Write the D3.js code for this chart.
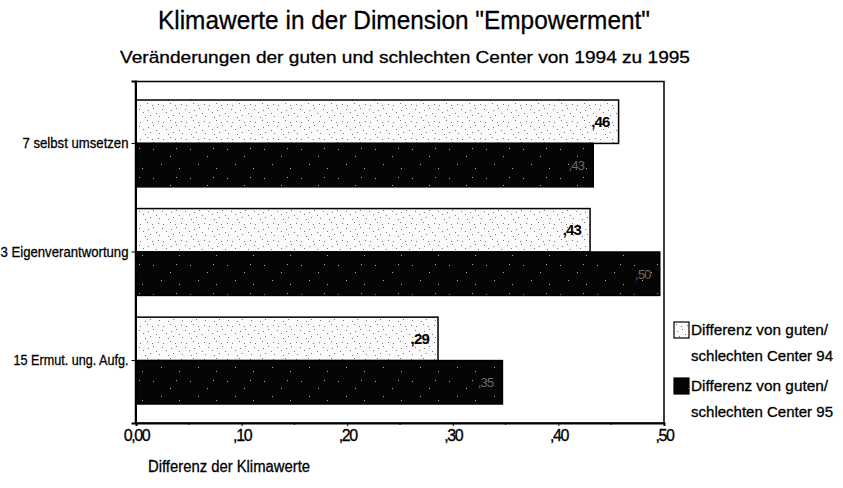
<!DOCTYPE html>
<html>
<head>
<meta charset="utf-8">
<script src="https://cdn.jsdelivr.net/npm/d3@7"></script>
<style>
  html, body { margin: 0; padding: 0; background: #fff; }
  svg { display: block; font-family: "Liberation Sans", Arial, sans-serif; }
  text.heavy { stroke: #000; stroke-width: 0.3; }
</style>
</head>
<body>
<svg id="chart" width="843" height="488"></svg>
<script>
const categories = ["7 selbst umsetzen", "3 Eigenverantwortung", "15 Ermut. ung. Aufg."];
const series94 = [0.457, 0.43, 0.286];
const series95 = [0.433, 0.496, 0.347];
const seriesNames = ["Differenz von guten/\nschlechten Center 94", "Differenz von guten/\nschlechten Center 95"];
const xTicks = [0, 0.1, 0.2, 0.3, 0.4, 0.5];
const xMinorTicks = [0.05, 0.15, 0.25, 0.35, 0.45];
const titleText = "Klimawerte in der Dimension \"Empowerment\"";
const subtitleText = "Veränderungen der guten und schlechten Center von 1994 zu 1995";
const xAxisTitle = "Differenz der Klimawerte";
const catLabelWidths = [106, 128, 115];

const svg = d3.select("#chart");
const defs = svg.append("defs");

// light speckle pattern (fixed dot layout)
const pl = defs.append("pattern").attr("id", "light").attr("patternUnits", "userSpaceOnUse")
  .attr("width", 23).attr("height", 17);
pl.append("rect").attr("width", 23).attr("height", 17).attr("fill", "#fbfbfb");
[[2,3],[9,1],[15,6],[20,2],[5,10],[12,13],[18,11],[7,15],[1,7],[21,14],[14,3],[10,8]].forEach(([x,y]) =>
  pl.append("rect").attr("x", x).attr("y", y).attr("width", 1).attr("height", 1).attr("fill", "#777"));
// dark pattern
const pd = defs.append("pattern").attr("id", "dark").attr("patternUnits", "userSpaceOnUse")
  .attr("width", 37).attr("height", 29);
pd.append("rect").attr("width", 37).attr("height", 29).attr("fill", "#050505");
[[5,4],[22,11],[31,23],[13,19],[28,3]].forEach(([x,y]) =>
  pd.append("rect").attr("x", x).attr("y", y).attr("width", 1).attr("height", 1).attr("fill", "#aaa"));

const x = d3.scaleLinear().domain([0, 0.5]).range([136, 664]);
const y = d3.scaleBand().domain(categories).range([81, 423]).paddingInner(0.2).paddingOuter(0.175);
const sub = d3.scaleBand().domain([0, 1]).range([0, y.bandwidth()]);

// titles
svg.append("text").attr("class", "heavy").attr("x", 404).attr("y", 29).attr("text-anchor", "middle")
  .attr("font-size", 26).attr("textLength", 492).attr("lengthAdjust", "spacingAndGlyphs").text(titleText);
svg.append("text").attr("class", "heavy").attr("x", 405).attr("y", 63).attr("text-anchor", "middle")
  .attr("font-size", 17).attr("textLength", 570).attr("lengthAdjust", "spacingAndGlyphs").text(subtitleText);

// frame
svg.append("rect").attr("x", 135.5).attr("y", 81.5).attr("width", 664 - 135.5).attr("height", 423 - 81.5)
  .attr("fill", "none").attr("stroke", "#000").attr("stroke-width", 1.5);

// bars
const g = svg.append("g");
categories.forEach((c, i) => {
  const vals = [series94[i], series95[i]];
  vals.forEach((v, j) => {
    g.append("rect").attr("x", x(0)).attr("y", y(c) + sub(j))
      .attr("width", x(v) - x(0)).attr("height", sub.bandwidth())
      .attr("fill", j === 0 ? "url(#light)" : "url(#dark)")
      .attr("stroke", "#000").attr("stroke-width", 1.5);
    const lbl = "," + d3.format(".2f")(v).split(".")[1];
    g.append("text").attr("x", x(v) - 9).attr("y", y(c) + sub(j) + sub.bandwidth() / 2 + 5)
      .attr("text-anchor", "end").attr("font-size", j === 0 ? 15 : 13)
      .attr("font-weight", j === 0 ? "bold" : "normal")
      .attr("fill", j === 0 ? "#000" : "#6a6a6a")
      .attr("letter-spacing", -0.8).text(lbl);
  });
});

// y axis
const yAxis = d3.axisLeft(y).tickSize(4).tickPadding(3);
const ya = svg.append("g").attr("transform", "translate(135.5,0)").call(yAxis);
ya.select(".domain").attr("stroke-width", 2);
ya.selectAll("text").attr("class", "heavy").attr("font-size", 15)
  .attr("font-family", "'Liberation Sans', Arial, sans-serif")
  .attr("textLength", (d, i) => catLabelWidths[i]).attr("lengthAdjust", "spacingAndGlyphs")
  .attr("fill", "#000");

// x axis
const xa = svg.append("g").attr("transform", "translate(0,423)")
  .call(d3.axisBottom(x).tickValues(xTicks).tickSize(3).tickPadding(4)
    .tickFormat(v => v === 0 ? "0,00" : "," + d3.format(".2f")(v).split(".")[1]));
xa.select(".domain").attr("stroke-width", 2);
xa.selectAll("text").attr("class", "heavy").attr("font-size", 16)
  .attr("font-family", "'Liberation Sans', Arial, sans-serif")
  .attr("letter-spacing", -1.4).attr("fill", "#000");
svg.append("g").attr("transform", "translate(0,423)")
  .selectAll("line").data(xMinorTicks).join("line")
  .attr("x1", d => x(d)).attr("x2", d => x(d)).attr("y1", 0).attr("y2", 2).attr("stroke", "#000");

svg.append("text").attr("class", "heavy").attr("x", 148).attr("y", 472).attr("font-size", 16)
  .attr("textLength", 162).attr("lengthAdjust", "spacingAndGlyphs").text(xAxisTitle);

// legend
const legendY = [322, 378];
seriesNames.forEach((name, j) => {
  svg.append("rect").attr("x", 674).attr("y", legendY[j]).attr("width", 15).attr("height", 16)
    .attr("fill", j === 0 ? "url(#light)" : "url(#dark)").attr("stroke", "#000").attr("stroke-width", 1.2);
  name.split("\n").forEach((line, k) => {
    svg.append("text").attr("class", "heavy").attr("x", 691).attr("y", legendY[j] + 13 + k * 26).attr("font-size", 15)
      .attr("textLength", k === 0 ? 137 : 142).attr("lengthAdjust", "spacingAndGlyphs").text(line);
  });
});
</script>
</body>
</html>
